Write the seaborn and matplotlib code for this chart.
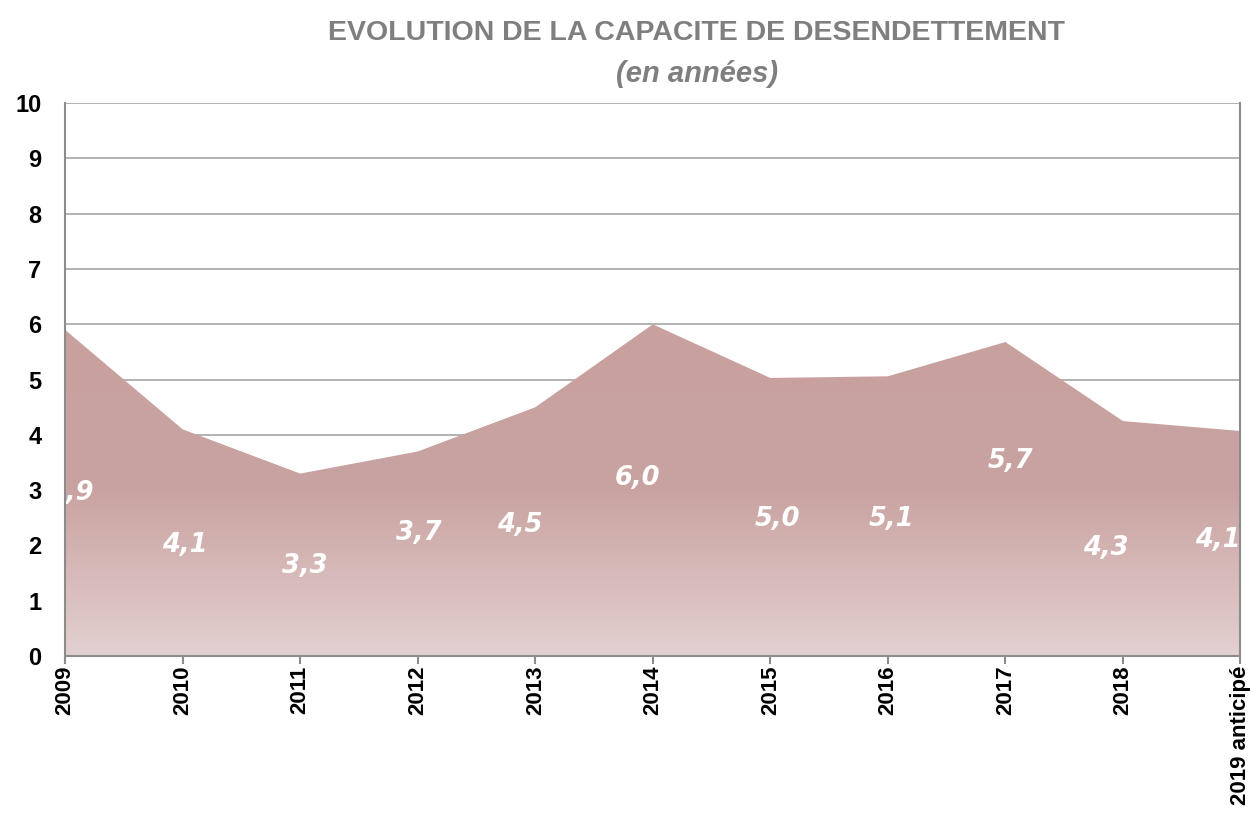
import matplotlib
matplotlib.use('Agg')
import matplotlib.pyplot as plt
import seaborn as sns
import numpy as np
import pandas as pd
from matplotlib.colors import LinearSegmentedColormap

years = ['2009', '2010', '2011', '2012', '2013', '2014', '2015', '2016', '2017', '2018', '2019 anticipé']
capacite = [5.9, 4.1, 3.3, 3.7, 4.5, 6.0, 5.0, 5.1, 5.7, 4.3, 4.1]
area_values = [5.9, 4.1, 3.3, 3.7, 4.5, 6.0, 5.03, 5.06, 5.68, 4.25, 4.07]
value_labels = ['5,9', '4,1', '3,3', '3,7', '4,5', '6,0', '5,0', '5,1', '5,7', '4,3', '4,1']

# where Excel dropped the data labels (offsets from the category, label height)
label_dx = [0.05, 0.02, 0.04, 0.01, -0.13, -0.13, 0.06, 0.03, 0.04, -0.15, -0.19]
label_y = [2.95, 2.0, 1.63, 2.22, 2.37, 3.22, 2.48, 2.48, 3.53, 1.95, 2.1]

df = pd.DataFrame({'idx': np.arange(len(years)), 'value': area_values})

sns.set_style('white')
plt.rcParams['font.family'] = ['Liberation Sans', 'DejaVu Sans']

fig = plt.figure(figsize=(12.53, 8.19), dpi=100)
ax = fig.add_axes([0.052, 0.199, 0.938, 0.675])

grid_col = '#a6a6a6'
ax.set_axisbelow(True)
for v in range(1, 11):
    ax.axhline(v, color=grid_col, lw=1.2, zorder=0)

sns.lineplot(data=df, x='idx', y='value', ax=ax, color='#c89f9e', lw=0, zorder=2)
poly = ax.fill_between(df['idx'], 0, df['value'], color='none', lw=0, zorder=2)

cmap = LinearSegmentedColormap.from_list('rose', [(0.0, '#e3d0d0'), (0.3, '#c9a3a1'), (1.0, '#c79f9d')])
grad = np.linspace(0, 1, 256).reshape(-1, 1)
img = ax.imshow(grad, cmap=cmap, aspect='auto', origin='lower',
                extent=[0, len(years) - 1, 0, 10], zorder=2)
img.set_clip_path(poly.get_paths()[0], transform=ax.transData)

for i, lab in enumerate(value_labels):
    ax.text(i + label_dx[i], label_y[i], lab, color='white', fontsize=18.5,
            fontweight='bold', fontstyle='italic', ha='center', va='center',
            family=['DejaVu Sans'], zorder=4, clip_on=True)

ax.set_xlim(0, len(years) - 1)
ax.set_ylim(0, 10)
ax.set_xticks(range(len(years)))
ax.set_xticklabels(years, rotation=90, fontsize=16, fontweight='bold', color='black')
ax.set_yticks(range(0, 11))
ax.set_yticklabels([str(v) for v in range(0, 11)], fontsize=17, fontweight='bold', color='black')
ax.set_xlabel('')
ax.set_ylabel('')

for side in ['left', 'bottom', 'right']:
    ax.spines[side].set_color('#8c8c8c')
    ax.spines[side].set_linewidth(1.5)
    ax.spines[side].set_zorder(5)
ax.spines['top'].set_visible(False)
ax.tick_params(axis='x', which='major', direction='out', length=6, width=1.5,
               color='#8c8c8c', pad=1, bottom=True)
ax.tick_params(axis='y', length=0, pad=17)

fig.text(0.556, 0.96, 'EVOLUTION DE LA CAPACITE DE DESENDETTEMENT', ha='center', va='center',
         fontsize=20.5, fontweight='bold', color='#7f7f7f')
fig.text(0.556, 0.91, '(en années)', ha='center', va='center',
         fontsize=21, fontweight='bold', fontstyle='italic', color='#7f7f7f')

plt.savefig('out.png', dpi=100)
plt.close()
